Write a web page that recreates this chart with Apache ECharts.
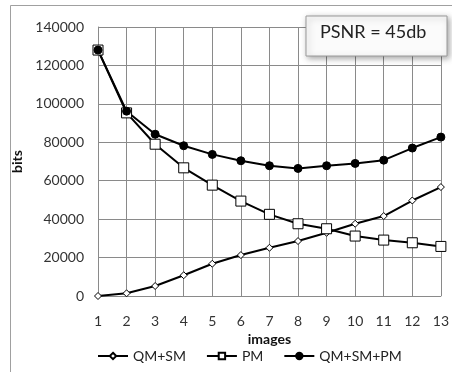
<!DOCTYPE html>
<html>
<head>
<meta charset="utf-8">
<script src="https://cdn.jsdelivr.net/npm/echarts@6/dist/echarts.min.js"></script>
<style>
  html, body { margin: 0; padding: 0; background: #fff; }
  #chart { width: 452px; height: 372px; }
</style>
</head>
<body>
<div id="chart"></div>
<script>
const images = ["1", "2", "3", "4", "5", "6", "7", "8", "9", "10", "11", "12", "13"];
const qmSm = [0, 1400, 5200, 10800, 16800, 21300, 25100, 28600, 32900, 37600, 41600, 49700, 56700];
const pm = [128000, 95300, 79000, 66700, 57700, 49400, 42500, 37600, 35000, 31200, 29100, 27700, 25800];
const qmSmPm = [128000, 96200, 84200, 78200, 73700, 70400, 67800, 66400, 67800, 69000, 70700, 77000, 82700];

const chart = echarts.init(document.getElementById("chart"));
const font = "Lato, 'Open Sans', sans-serif";

// common style for the three black lines
const lineSeries = (name, data, symbol, size, fill) => ({
  name: name,
  type: "line",
  data: data,
  symbol: symbol,
  symbolSize: size,
  showAllSymbol: true,
  lineStyle: { color: "#000", width: 2 },
  itemStyle: { color: fill, borderColor: "#000", borderWidth: 1 },
  emphasis: { disabled: true },
  animation: false
});

chart.setOption({
  backgroundColor: "#fff",
  textStyle: { fontFamily: font },
  graphic: [
    {
      type: "rect",
      shape: { x: 10.5, y: 5.5, width: 460, height: 400 },
      style: { fill: "none", stroke: "#a0a0a0", lineWidth: 1 },
      silent: true
    },
    {
      type: "rect",
      z: 10,
      shape: { x: 306, y: 16, width: 141, height: 40 },
      style: {
        fill: "#fbfbfb", stroke: "#9a9a9a", lineWidth: 1,
        shadowBlur: 6, shadowOffsetX: 2, shadowOffsetY: 2, shadowColor: "rgba(0,0,0,0.35)"
      },
      silent: true
    },
    {
      type: "text",
      z: 11,
      left: 320, top: 23,
      style: { text: "PSNR = 45db", font: "18px " + font, fill: "#222" },
      silent: true
    }
  ],
  grid: { left: 98, right: 8, top: 27, bottom: 76 },
  legend: {
    bottom: 4,
    left: 92,
    itemGap: 20,
    itemWidth: 30,
    itemHeight: 8,
    textStyle: { fontFamily: font, fontSize: 14, color: "#222" },
    data: [
      { name: "QM+SM" },
      { name: "PM" },
      { name: "QM+SM+PM" }
    ]
  },
  xAxis: {
    type: "category",
    data: images,
    boundaryGap: false,
    name: "images",
    nameLocation: "middle",
    nameGap: 33,
    nameTextStyle: { fontFamily: font, fontSize: 14, fontWeight: "bold", color: "#111" },
    axisLine: { lineStyle: { color: "#8a8a8a" } },
    axisTick: { show: false },
    axisLabel: { fontSize: 14, color: "#333", margin: 18 },
    splitLine: { show: true, lineStyle: { color: "#8a8a8a", width: 1 } }
  },
  yAxis: {
    type: "value",
    min: 0,
    max: 140000,
    interval: 20000,
    name: "bits",
    nameLocation: "middle",
    nameGap: 70,
    nameTextStyle: { fontFamily: font, fontSize: 14, fontWeight: "bold", color: "#111" },
    axisLine: { show: true, lineStyle: { color: "#8a8a8a" } },
    axisTick: { show: false },
    axisLabel: { fontSize: 14, color: "#333", margin: 14, formatter: v => String(v) },
    splitLine: { show: true, lineStyle: { color: "#8a8a8a", width: 1 } }
  },
  series: [
    lineSeries("QM+SM", qmSm, "diamond", 7, "#fff"),
    lineSeries("PM", pm, "rect", 10, "#fff"),
    lineSeries("QM+SM+PM", qmSmPm, "circle", 8, "#000")
  ]
});
</script>
</body>
</html>
